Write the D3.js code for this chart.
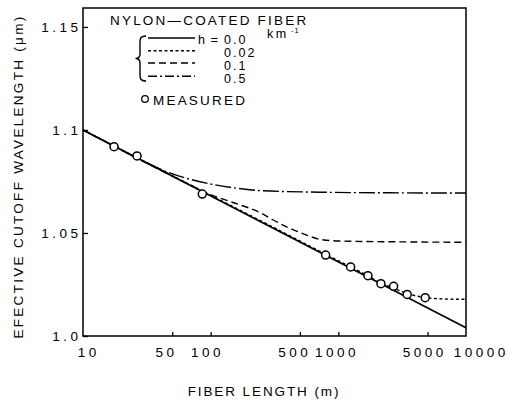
<!DOCTYPE html>
<html><head><meta charset="utf-8">
<script src="https://cdn.jsdelivr.net/npm/d3@7"></script>
<style>body{margin:0;background:#fff} svg{display:block}</style>
</head><body>
<svg id="c" width="508" height="403"></svg>
<script>
// ---- data ----
const xTicks = [10, 50, 100, 500, 1000, 5000, 10000];
const xTickLabels = ["10", "50", "100", "500", "1000", "5000", "10000"];
const yTicks = [1.0, 1.05, 1.1, 1.15];
const yTickLabels = ["1.0", "1.05", "1.1", "1.15"];
const seriesNames = ["0.0", "0.02", "0.1", "0.5"];
const curveH00 = [[10, 1.1], [10000, 1.004]];
const curveH002 = [[10, 1.1], [100, 1.0683], [300, 1.0532], [800, 1.0396], [1250, 1.0335],
  [1700, 1.0293], [2150, 1.0257], [2700, 1.0232], [3450, 1.0206], [4800, 1.0187], [6500, 1.018], [10000, 1.0178]];
const curveH01 = [[10, 1.1], [60, 1.0752], [98.8, 1.0687], [149.6, 1.0648], [257, 1.0592],
  [309, 1.0563], [565, 1.049], [718, 1.0469], [1030, 1.0461], [3000, 1.0457], [10000, 1.0455]];
const curveH05 = [[10, 1.1], [28, 1.0857], [44.9, 1.0798], [72.7, 1.0757], [141.7, 1.0722],
  [257, 1.0705], [718, 1.0698], [2500, 1.0695], [10000, 1.0694]];
const measuredL = [17.5, 26.5, 86, 795, 1248, 1705, 2156, 2710, 3463, 4792];
const measuredW = [1.0919, 1.0874, 1.0689, 1.0393, 1.0335, 1.0293, 1.0254, 1.0241, 1.0202, 1.0186];

// ---- layout ----
const svg = d3.select("#c");
const L = 83, R = 466, T = 8, B = 336;
const x = d3.scaleLog().domain([10, 10000]).range([L, R]);
const y = d3.scaleLinear().domain([1.0, 1.1592]).range([B, T]);
const font = "'Liberation Sans', Arial, Helvetica, sans-serif";
const ink = "#000";
const dashes = { "0.0": null, "0.02": "3,2.5", "0.1": "7,4", "0.5": "16,3,2,3" };
const series = [curveH00, curveH002, curveH01, curveH05];

// frame
svg.append("rect").attr("x", L).attr("y", T).attr("width", R - L).attr("height", B - T)
  .attr("fill", "none").attr("stroke", ink).attr("stroke-width", 1.5);

// axes (inward ticks)
const xAxis = d3.axisBottom(x).tickValues(xTicks.slice(1, -1)).tickSize(-4).tickFormat("");
svg.append("g").attr("transform", `translate(0,${B})`).call(xAxis)
  .call(g => { g.select(".domain").remove(); g.selectAll("line").attr("stroke", ink).attr("stroke-width", 1.3); });
const yAxis = d3.axisLeft(y).tickValues(yTicks).tickSize(-5).tickFormat("");
svg.append("g").attr("transform", `translate(${L},0)`).call(yAxis)
  .call(g => { g.select(".domain").remove(); g.selectAll("line").attr("stroke", ink).attr("stroke-width", 1.3); });

// x tick labels
const xNudge = { 10: 4, 50: -7.5, 100: -5, 500: -7, 1000: -3, 5000: -4.5, 10000: 13.5 };
const lsD = 3.5;
svg.append("g").selectAll("text").data(xTicks).join("text")
  .attr("x", d => x(d) + xNudge[d] + lsD / 2).attr("y", 357)
  .attr("text-anchor", "middle").attr("font-family", font).attr("font-size", 13.5)
  .attr("letter-spacing", lsD).attr("fill", ink)
  .text((d, i) => xTickLabels[i]);

// y tick labels
svg.append("g").selectAll("text").data(yTicks).join("text")
  .attr("x", 78 + lsD).attr("y", d => y(d)).attr("dy", "0.36em")
  .attr("text-anchor", "end").attr("font-family", font).attr("font-size", 13.5)
  .attr("letter-spacing", lsD).attr("fill", ink)
  .text((d, i) => yTickLabels[i]);

// axis titles
svg.append("text").attr("x", 263 + 1).attr("y", 396).attr("text-anchor", "middle")
  .attr("font-family", font).attr("font-size", 13.5).attr("letter-spacing", 1.9).attr("fill", ink)
  .text("FIBER LENGTH (m)");
svg.append("text").attr("transform", "translate(23,176.5) rotate(-90)").attr("text-anchor", "middle")
  .attr("font-family", font).attr("font-size", 13.5).attr("letter-spacing", 2.3).attr("fill", ink)
  .text("EFECTIVE CUTOFF WAVELENGTH (μm)");

// curves
const line = d3.line().x(d => x(d[0])).y(d => y(d[1])).curve(d3.curveMonotoneX);
svg.append("g").selectAll("path").data(series).join("path")
  .attr("d", line).attr("fill", "none").attr("stroke", ink)
  .attr("stroke-width", (d, i) => i === 0 ? 1.7 : 1.4)
  .attr("stroke-dasharray", (d, i) => dashes[seriesNames[i]]);

// measured points
svg.append("g").selectAll("circle").data(measuredL).join("circle")
  .attr("cx", d => x(d)).attr("cy", (d, i) => y(measuredW[i])).attr("r", 4)
  .attr("fill", "#fff").attr("stroke", ink).attr("stroke-width", 1.5);

// legend
const lg = svg.append("g").attr("font-family", font).attr("font-size", 13.5).attr("fill", ink);
lg.append("text").attr("x", 110).attr("y", 24.5).attr("letter-spacing", 2.2).text("NYLON—COATED FIBER");
const rowY = [38, 50.7, 63, 76.3];
lg.selectAll("line.k").data(seriesNames).join("line").attr("class", "k")
  .attr("x1", 148).attr("x2", 195).attr("y1", (d, i) => rowY[i]).attr("y2", (d, i) => rowY[i])
  .attr("stroke", ink).attr("stroke-width", (d, i) => i === 0 ? 1.7 : 1.4)
  .attr("stroke-dasharray", d => d === "0.5" ? "9,3,2,3" : dashes[d]);
lg.append("text").attr("x", 198).attr("y", 43.5).attr("font-size", 12.5).attr("letter-spacing", 1.2).text("h =");
lg.selectAll("text.v").data(seriesNames).join("text").attr("class", "v")
  .attr("x", 224).attr("y", (d, i) => [43.5, 56.8, 69.5, 83][i]).attr("font-size", 12.5)
  .attr("letter-spacing", 2).text(d => d);
lg.append("text").attr("x", 267).attr("y", 38).attr("font-size", 12.5).attr("letter-spacing", 2.5).text("km");
lg.append("text").attr("x", 291).attr("y", 33).attr("font-size", 7.5).attr("letter-spacing", 1).text("-1");
// brace
lg.append("path").attr("d", "M146,36 C139,36 140,40 140,46 L140,54 C140,57 139,58.5 135.5,58.5 C139,58.5 140,60 140,63 L140,71 C140,77 139,81 146,81")
  .attr("fill", "none").attr("stroke", ink).attr("stroke-width", 1.4);
lg.append("circle").attr("cx", 145).attr("cy", 99).attr("r", 3.3)
  .attr("fill", "#fff").attr("stroke", ink).attr("stroke-width", 1.3);
lg.append("text").attr("x", 153).attr("y", 104.7).attr("letter-spacing", 2.2).text("MEASURED");
</script>
</body></html>
